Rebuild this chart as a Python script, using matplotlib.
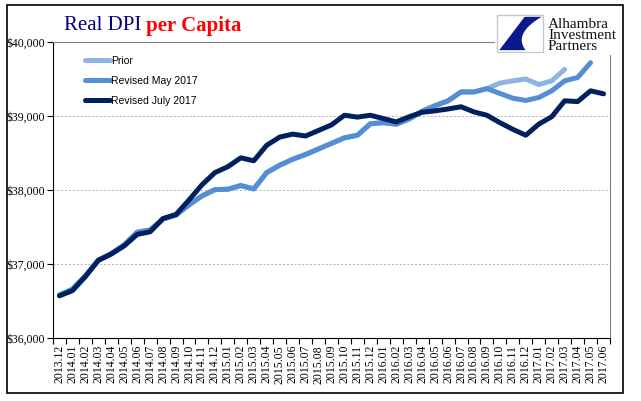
import matplotlib
matplotlib.use("Agg")
from matplotlib import pyplot as plt
from matplotlib.patches import Rectangle, Polygon
from matplotlib.ticker import FuncFormatter
import numpy as np
import pandas as pd

# month labels 2013.12 .. 2017.06
months = list(pd.period_range("2013-12", "2017-06", freq="M").strftime("%Y.%m"))

prior = [36580, 36660, 36840, 37050, 37140, 37260, 37430, 37460, 37610, 37660,
         37800, 37920, 38005, 38010, 38060, 38015, 38235, 38335, 38415, 38480,
         38555, 38630, 38705, 38740, 38895, 38910, 38890, 38960, 39065, 39140,
         39205, 39325, 39325, 39370, 39445, 39475, 39500, 39425, 39475, 39630]
may17 = [36580, 36660, 36840, 37050, 37140, 37260, 37430, 37460, 37610, 37660,
         37800, 37920, 38005, 38010, 38060, 38015, 38235, 38335, 38415, 38480,
         38555, 38630, 38705, 38740, 38895, 38910, 38890, 38960, 39065, 39140,
         39205, 39325, 39325, 39370, 39305, 39240, 39210, 39250, 39340, 39475,
         39520, 39720]
july17 = [36570, 36640, 36830, 37050, 37135, 37245, 37400, 37435, 37615, 37670,
          37865, 38070, 38235, 38315, 38435, 38395, 38605, 38715, 38755, 38730,
          38805, 38880, 39010, 38985, 39010, 38965, 38920, 38990, 39050, 39070,
          39095, 39125, 39055, 39010, 38910, 38820, 38740, 38890, 38990, 39205,
          39195, 39340, 39300]

series_names = ["Prior", "Revised May 2017", "Revised July 2017"]
colors = ["#8db4e2", "#558ed5", "#002060"]

W, H = 641, 401
fig = plt.figure(figsize=(W / 100, H / 100), dpi=100)

# outer frame
fig.patches.append(Rectangle((7 / W, 1 - 393 / H), 616 / W, 388 / H,
                             transform=fig.transFigure, fill=False,
                             edgecolor="black", linewidth=1.2))

ax = fig.add_axes([53 / W, 1 - 338 / H, 557 / W, 296 / H])
x = np.arange(len(months))
for vals, name, c in zip([prior, may17, july17], series_names, colors):
    ax.plot(x[:len(vals)], vals, color=c, linewidth=3.6, label=name,
            solid_capstyle="round", solid_joinstyle="round")

ax.set_xlim(-0.5, len(months) - 0.5)
ax.set_ylim(36000, 40000)
ax.set_yticks([36000, 37000, 38000, 39000, 40000])
ax.yaxis.set_major_formatter(FuncFormatter(lambda v, p: "${:,.0f}".format(v)))
ax.set_xticks(x)
ax.set_xticklabels(months, rotation=90)
ax.set_xticks(np.arange(-0.5, len(months)), minor=True)
ax.tick_params(axis="x", which="major", length=0, pad=5)
ax.tick_params(axis="x", which="minor", length=4, direction="out", width=0.8)
ax.tick_params(axis="y", length=4, direction="out", width=0.8, pad=2)
for lab in ax.get_xticklabels() + ax.get_yticklabels():
    lab.set_fontfamily("Liberation Serif")
    lab.set_fontsize(8.5)

ax.grid(axis="y", color="#b0b0b0", linestyle=(0, (2, 2)), linewidth=0.7)
ax.spines["left"].set_color("black")
ax.spines["bottom"].set_color("black")
ax.spines["top"].set_color("#808080")
ax.spines["right"].set_color("#808080")

ax.legend(loc="upper left", bbox_to_anchor=(0.04, 0.985), frameon=False,
          handlelength=2.4, handletextpad=0.1, labelspacing=0.95,
          prop={"family": "Liberation Sans", "size": 7.5})

# title
fig.text(64 / W, 1 - 26 / H, "Real DPI ", color="#000080", fontsize=15,
         fontfamily="Liberation Serif", va="center", ha="left")
fig.text(146 / W, 1 - 26 / H, "per Capita", color="#ff0000", fontsize=15,
         fontfamily="Liberation Serif", fontweight="bold", va="center", ha="left")

# logo (pixel coords, y down)
lg = fig.add_axes([495 / W, 1 - 55 / H, 126 / W, 47 / H], zorder=5)
lg.set_xlim(0, 126)
lg.set_ylim(47, 0)
lg.axis("off")
lg.add_patch(Rectangle((0, 0), 126, 47, facecolor="white", edgecolor="none"))
bx, by, bw, bh = 2, 7, 46, 37
lg.add_patch(Rectangle((bx, by), bw, bh, facecolor="white", edgecolor="#c8c8c8",
                       linewidth=1))
t = np.linspace(0, 1, 40)[:, None]
p0, c0, p2 = np.array([0.97, 0.05]), np.array([0.35, 0.5]), np.array([0.62, 0.95])
curve = (1 - t) ** 2 * p0 + 2 * (1 - t) * t * c0 + t ** 2 * p2
shape = np.vstack([[[0.6, 0.05]], curve, [[0.05, 0.95]]])
shape = shape * [bw, bh] + [bx, by]
lg.add_patch(Polygon(shape, closed=True, facecolor="#0a1a8c", edgecolor="none"))
lg.text(53, 27.5, "Alhambra\nInvestment\nPartners", fontsize=11,
        fontfamily="Liberation Serif", color="#111111", va="center", ha="left",
        linespacing=0.78)

fig.savefig("out.png", dpi=100)
